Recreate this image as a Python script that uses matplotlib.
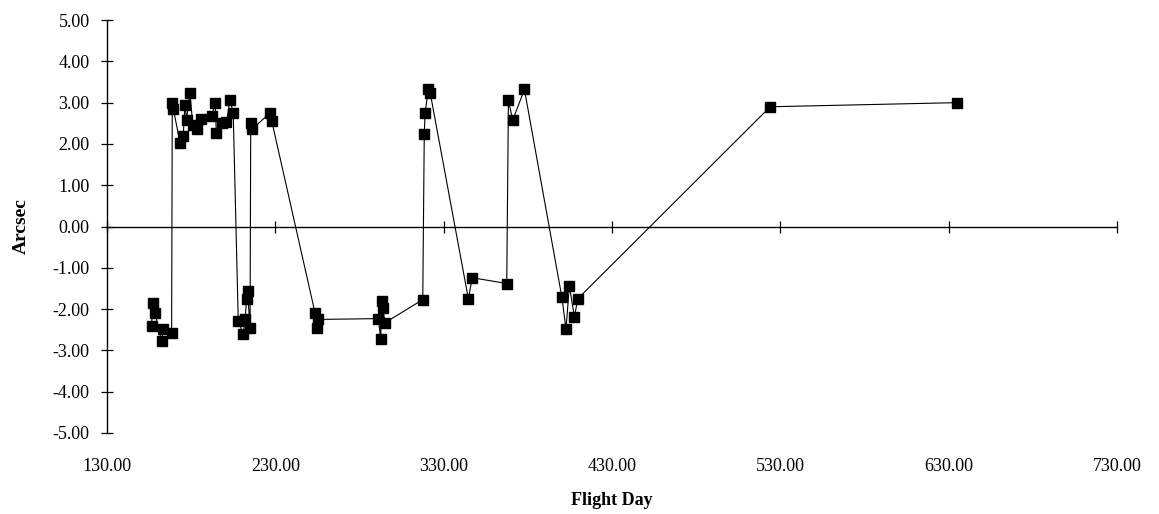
import numpy as np
import matplotlib
matplotlib.use('Agg')
import matplotlib.pyplot as plt

# 数据
flight_day = [156.5, 157.1, 158.5, 162.5, 163.5, 168.4,
              168.8, 169.4, 173.4, 175.3, 176.3, 177.3, 179.3, 181.0, 183.3, 186.0,
              192.2, 194.2, 195.0, 198.2, 201.0, 203.1, 205.0,
              208.0, 211.0, 212.0, 213.0, 213.5, 215.0,
              215.4, 215.9, 226.9, 227.9,
              253.6, 255.0, 255.6,
              291.2, 292.6, 293.2, 293.8, 295.2,
              317.6, 318.5, 319.0, 320.9, 322.0,
              344.7, 347.0, 367.5, 368.5, 371.0, 378.0,
              400.2, 402.7, 404.7, 407.7, 409.7,
              524.0, 635.0]
arcsec = [-2.41, -1.86, -2.09, -2.78, -2.48, -2.59,
          2.99, 2.85, 2.03, 2.19, 2.95, 2.59, 3.24, 2.45, 2.35, 2.60,
          2.67, 2.99, 2.27, 2.51, 2.52, 3.07, 2.75,
          -2.29, -2.61, -2.25, -1.75, -1.55, -2.45,
          2.51, 2.35, 2.75, 2.55,
          -2.09, -2.45, -2.25,
          -2.23, -2.72, -1.81, -1.97, -2.33,
          -1.77, 2.25, 2.75, 3.32, 3.24,
          -1.75, -1.24, -1.38, 3.07, 2.57, 3.32,
          -1.70, -2.48, -1.44, -2.19, -1.75,
          2.90, 3.00]

x_ticks = [130, 230, 330, 430, 530, 630, 730]
y_ticks = [5, 4, 3, 2, 1, 0, -1, -2, -3, -4, -5]

plt.rcParams['font.family'] = ['Liberation Serif', 'DejaVu Serif']

fig = plt.figure(figsize=(11.59, 5.14), dpi=100)
ax = fig.add_axes([0.0923, 0.1576, 0.8714, 0.8034])

ax.plot(flight_day, arcsec, color='black', linewidth=0.8,
        marker='s', markersize=6.5, markerfacecolor='black',
        markeredgecolor='black')

ax.set_xlim(130, 730)
ax.set_ylim(-5, 5)

# 左轴
ax.spines['top'].set_visible(False)
ax.spines['right'].set_visible(False)
ax.spines['left'].set_linewidth(1.0)
ax.set_yticks(y_ticks)
ax.set_yticklabels([f'{v:.2f}' for v in y_ticks], fontsize=13)
ax.tick_params(axis='y', direction='inout', length=9, width=0.9, pad=8)

# 零线上的刻度
ax.spines['bottom'].set_position(('data', 0))
ax.spines['bottom'].set_linewidth(1.0)
ax.set_xticks(x_ticks)
ax.tick_params(axis='x', direction='inout', length=9, width=0.9,
               labelbottom=False)

# 底部刻度标签
sec = ax.secondary_xaxis(0)
sec.set_xticks(x_ticks)
sec.set_xticklabels([f'{v:.2f}' for v in x_ticks], fontsize=13)
sec.tick_params(axis='x', length=0, pad=18)
sec.spines['bottom'].set_visible(False)
sec.set_xlabel('Flight Day', fontsize=13, fontweight='bold', labelpad=12)

ax.set_ylabel('Arcsec', fontsize=14, fontweight='bold', labelpad=16)

plt.savefig('out.png', dpi=100)
plt.close()
